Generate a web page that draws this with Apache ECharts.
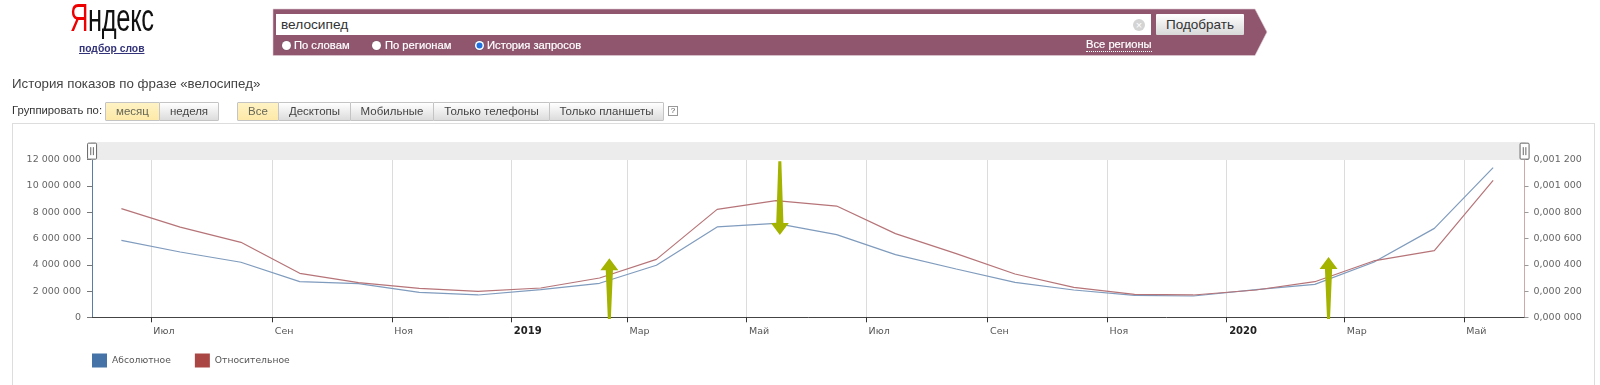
<!DOCTYPE html>
<html><head><meta charset="utf-8">
<style>
html,body{margin:0;padding:0;background:#fff;width:1600px;height:385px;overflow:hidden;font-family:"Liberation Sans",Arial,sans-serif}
#chart{position:absolute;left:0;top:0;width:1600px;height:385px}
.a{position:absolute;white-space:nowrap}
.btn{position:absolute;top:102px;height:17px;line-height:17px;text-align:center;font-size:11.5px;color:#444;background:linear-gradient(#fff,#dcdcdc);border:1px solid #c4c4c4;border-radius:1px;box-sizing:content-box;margin-left:-1px}
.on{background:linear-gradient(#fff3c4,#fde9a8);color:#665}
.radio{position:absolute;top:40.5px;width:9px;height:9px;border-radius:50%;background:#fff;box-shadow:0 0 1px #555}
.rt{position:absolute;top:38px;color:#fff;font-size:11.2px;line-height:14px;white-space:nowrap;-webkit-text-stroke:.2px #fff}
</style></head><body>
<div class="a" style="left:12px;top:123px;width:1583px;height:270px;border:1px solid #ddd;box-sizing:border-box"></div>
<div id="chart"></div>
<div class="a" style="left:70px;top:-2px;font-size:38px;line-height:40px;transform-origin:0 0;transform:scaleX(.67);letter-spacing:-.5px"><span style="color:#e00">Я</span><span style="color:#111">ндекс</span></div>
<div class="a" style="left:79px;top:42px;font-size:10.3px;line-height:13px;color:#33337a;font-weight:bold;text-decoration:underline">подбор слов</div>
<svg class="a" style="left:272px;top:8px" width="1000" height="50"><polygon points="1,1 983,1 995,24 983,47.5 1,47.5" fill="#8f566e" stroke="#e3cfd8" stroke-width=".6"/></svg>
<div class="a" style="left:276px;top:14px;width:875px;height:21px;background:#fff"></div>
<div class="a" style="left:281px;top:15px;font-size:13.7px;line-height:20px;color:#333">велосипед</div>
<div class="a" style="left:1133px;top:18.5px;width:12px;height:12px;border-radius:50%;background:#d4d4d4;color:#fff;font-size:11px;line-height:12px;text-align:center">×</div>
<div class="a" style="left:1156px;top:14px;width:88px;height:21px;line-height:21px;text-align:center;font-size:13.5px;color:#333;background:linear-gradient(#fff,#d8d8d8);border-radius:1px">Подобрать</div>
<div class="radio" style="left:282px"></div><div class="rt" style="left:294px">По словам</div>
<div class="radio" style="left:372px"></div><div class="rt" style="left:385px">По регионам</div>
<div class="radio" style="left:474.5px;background:#1f6fe0;box-shadow:0 0 0 1.5px #fff inset,0 0 1px #555"></div><div class="rt" style="left:487px">История запросов</div>
<div class="rt" style="left:1086px;top:38px;border-bottom:1px dotted #fff;line-height:13px">Все регионы</div>
<div class="a" style="left:12px;top:76px;font-size:13.3px;line-height:16px;color:#444">История показов по фразе «велосипед»</div>
<div class="a" style="left:12px;top:103px;font-size:11.3px;line-height:15px;color:#333">Группировать по:</div>
<div class="btn on" style="left:106px;width:53px">месяц</div>
<div class="btn" style="left:160px;width:58px">неделя</div>
<div class="btn on" style="left:238px;width:40px">Все</div>
<div class="btn" style="left:279px;width:71px">Десктопы</div>
<div class="btn" style="left:351px;width:82px">Мобильные</div>
<div class="btn" style="left:434px;width:115px">Только телефоны</div>
<div class="btn" style="left:550px;width:113px">Только планшеты</div>
<div class="a" style="left:668px;top:106px;width:8px;height:8px;border:1px solid #999;font-size:8px;line-height:8px;text-align:center;color:#555">?</div>
<script src="https://cdn.jsdelivr.net/npm/echarts@6/dist/echarts.min.js"></script>
<script>
const dates = ['2018-06-16','2018-07-16','2018-08-16','2018-09-15','2018-10-15','2018-11-15','2018-12-15','2019-01-16','2019-02-15','2019-03-16','2019-04-16','2019-05-16','2019-06-16','2019-07-16','2019-08-16','2019-09-15','2019-10-15','2019-11-15','2019-12-15','2020-01-16','2020-02-15','2020-03-16','2020-04-16','2020-05-16'];
const absoluteShows = [5860000,4970000,4190000,2720000,2560000,1900000,1700000,2100000,2590000,3960000,6880000,7150000,6290000,4770000,3680000,2660000,2080000,1670000,1620000,2100000,2510000,4190000,6770000,11400000];
const relativeShows = [0.000827,0.000687,0.000571,0.000335,0.000264,0.000220,0.000198,0.000223,0.000299,0.000441,0.000822,0.000888,0.000847,0.000637,0.000485,0.000330,0.000228,0.000175,0.000170,0.000208,0.000271,0.000429,0.000507,0.001043];
const tickDates = ['2018-07-01','2018-09-01','2018-11-01','2019-01-01','2019-03-01','2019-05-01','2019-07-01','2019-09-01','2019-11-01','2020-01-01','2020-03-01','2020-05-01'];
const tickLabels = ['Июл','Сен','Ноя','2019','Мар','Май','Июл','Сен','Ноя','2020','Мар','Май'];
const seriesNames = ['Абсолютное','Относительное'];
const axisStart = '2018-06-01';
const axisEnd = '2020-06-01';
const arrowDates = ['2019-02-20','2019-05-18','2020-02-22'];
const arrowFrom = [-120000,11880000,-120000];
const arrowTo = [4500000,6270000,4600000];

const ms = d => Date.UTC(+d.slice(0,4), +d.slice(5,7)-1, +d.slice(8,10));
const tickTimes = tickDates.map(ms);
const labelFont = '"DejaVu Sans",Verdana,sans-serif';
const spaced = s => s.replace(/\B(?=(\d{3})+(?!\d))/g, ' ');
const chart = echarts.init(document.getElementById('chart'), null, {renderer:'canvas'});
chart.setOption({
  animation:false,
  backgroundColor:'transparent',
  textStyle:{fontFamily:labelFont},
  grid:{left:92,right:75.5,top:159.7,height:157.6,containLabel:false},
  legend:{left:92,top:353.5,padding:0,data:seriesNames,icon:'rect',itemWidth:15,itemHeight:14,itemGap:24,
    selectedMode:false,textStyle:{fontSize:9.2,color:'#555',fontFamily:labelFont}},
  dataZoom:[{type:'slider',xAxisIndex:0,filterMode:'none',left:90,right:75.5,top:142,height:17.7,
    start:0,end:100,showDetail:false,showDataShadow:false,brushSelect:false,
    backgroundColor:'#ececec',borderColor:'transparent',fillerColor:'#ececec',
    moveHandleSize:0,handleSize:16,
    handleIcon:'path://M1,0 L8,0 Q9,0 9,1 L9,15 Q9,16 8,16 L1,16 Q0,16 0,15 L0,1 Q0,0 1,0 Z M3.2,4 L3.2,12 M5.8,4 L5.8,12',
    handleStyle:{color:'#fff',borderColor:'#666',borderWidth:1}}],
  xAxis:{type:'value',min:ms(axisStart),max:ms(axisEnd),
    axisLine:{onZero:false,lineStyle:{color:'#444',width:1}},
    axisTick:{show:true,length:5,lineStyle:{color:'#333'},customValues:tickTimes},
    splitLine:{show:true,lineStyle:{color:'#dcdcdc',width:1}},
    axisLabel:{margin:9,align:'left',fontSize:9.5,color:'#555',hideOverlap:false,
      customValues:tickTimes,
      formatter:(v)=>{const i=tickTimes.indexOf(v);const t=i<0?'':tickLabels[i];return /^\d/.test(t)?'{y|'+t+'}':'{m|'+t+'}';},
      rich:{m:{fontSize:9.5,color:'#555',padding:[0,0,0,2.5],fontFamily:labelFont},y:{fontSize:10,color:'#222',fontWeight:'bold',padding:[0,0,0,2.5],fontFamily:labelFont}}}},
  yAxis:[
    {type:'value',min:0,max:12000000,interval:2000000,position:'left',
     axisLine:{show:true,lineStyle:{color:'#5a7da8',width:1}},
     axisTick:{show:true,length:5,lineStyle:{color:'#777'}},
     splitLine:{show:false},
     axisLabel:{margin:11,fontSize:9.5,color:'#666',formatter:v=>spaced(String(v))}},
    {type:'value',min:0,max:0.0012,interval:0.0002,position:'right',
     axisLine:{show:true,lineStyle:{color:'#cfa9a9',width:1}},
     axisTick:{show:true,length:4,lineStyle:{color:'#999'}},
     splitLine:{show:false},
     axisLabel:{margin:9,fontSize:9.5,color:'#666',formatter:v=>{const s=v.toFixed(6);return s.slice(0,1)+','+s.slice(2,5)+' '+s.slice(5);}}}
  ],
  series:[
    {name:seriesNames[0],type:'line',yAxisIndex:0,data:dates.map((d,i)=>[ms(d),absoluteShows[i]]),showSymbol:false,smooth:false,
     itemStyle:{color:'#4572a7',borderWidth:0},lineStyle:{color:'#7f9bbd',width:1.2},z:3},
    {name:seriesNames[1],type:'line',yAxisIndex:1,data:dates.map((d,i)=>[ms(d),relativeShows[i]]),showSymbol:false,smooth:false,
     itemStyle:{color:'#aa4643',borderWidth:0},lineStyle:{color:'#b67478',width:1.2},z:4},
    {type:'custom',yAxisIndex:0,clip:false,z:6,silent:true,
     data:arrowDates.map((d,i)=>[ms(d),arrowFrom[i],arrowTo[i]]),
     encode:{x:0,y:[1,2]},
     renderItem:(params,api)=>{
       const a=api.coord([api.value(0),api.value(1)]),b=api.coord([api.value(0),api.value(2)]);
       const dir=b[1]<a[1]?-1:1,x=a[0],hw=9,hl=12,tw=1.5,nw=3.6,neck=b[1]-dir*hl;
       return {type:'polygon',shape:{points:[[x-tw,a[1]],[x-nw,neck],[x-hw,neck],[x,b[1]],[x+hw,neck],[x+nw,neck],[x+tw,a[1]]]},style:{fill:'#a3b300'}};
     }}
  ]
});
</script>
</body></html>
